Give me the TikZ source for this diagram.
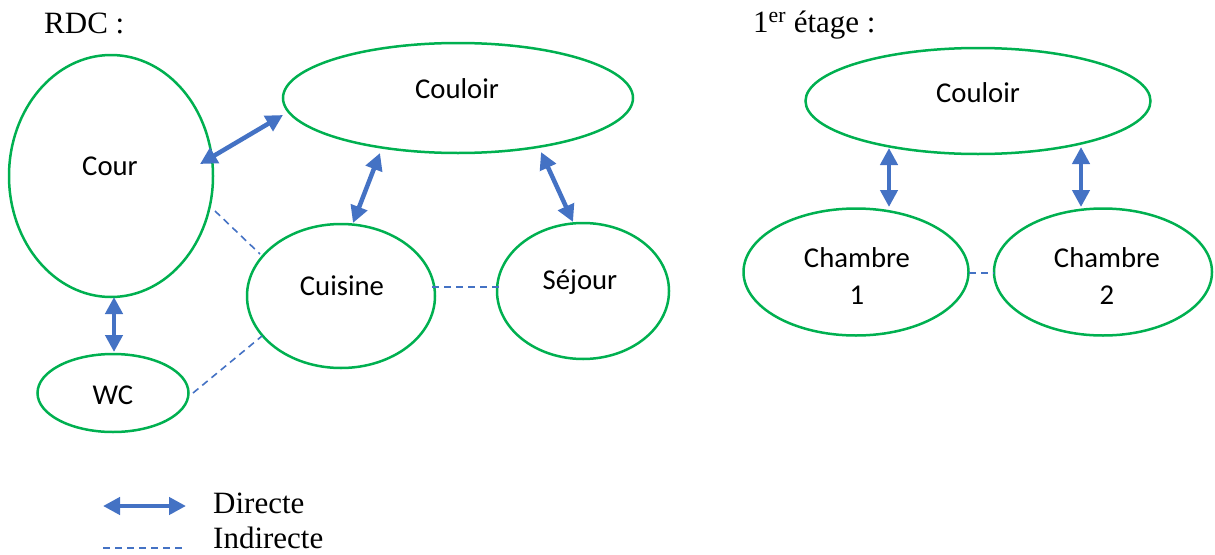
\documentclass[tikz,border=0pt]{standalone}
\usepackage{fontspec}
\setmainfont{Liberation Serif}
\newfontfamily\calibrifont{Carlito}
\usetikzlibrary{shapes.geometric,arrows.meta,calc}

\definecolor{roomgreen}{RGB}{0,176,80}
\definecolor{linkblue}{RGB}{68,114,196}

\tikzset{
  room/.style={draw=roomgreen, line width=2.5pt, ellipse, inner sep=0pt},
  roomname/.style={font=\calibrifont\fontsize{28.7}{37}\selectfont, anchor=base, inner sep=0pt, align=center},
  heading/.style={font=\fontsize{31}{35}\selectfont, anchor=base west, inner sep=0pt},
  direct/.style={draw=linkblue, line width=4.5pt, {Triangle[length=17pt,width=17pt]}-{Triangle[length=17pt,width=17pt]}},
  indirect/.style={draw=linkblue, line width=1.6pt, dash pattern=on 7pt off 5pt},
}

\begin{document}
\begin{tikzpicture}[x=1pt, y=-1pt]
\useasboundingbox (0,0) rectangle (1215,554);

% headings
\node[heading] (rdc) at (44,33) {RDC :};
\node[heading] (etage) at (753,32) {1\textsuperscript{er} étage :};

% ground floor rooms
\node[room, minimum width=204pt, minimum height=242pt] (cour) at (111,176) {};
\node[room, minimum width=350pt, minimum height=110pt] (couloirA) at (458,98) {};
\node[room, minimum width=188pt, minimum height=144pt] (cuisine) at (341,296) {};
\node[room, minimum width=172pt, minimum height=136pt] (sejour) at (583,291) {};
\node[room, minimum width=151pt, minimum height=78pt] (wc) at (113,393) {};

\node[roomname] (courT) at (110,175) {Cour};
\node[roomname] (couloirAT) at (457,98) {Couloir};
\node[roomname] (cuisineT) at (342,295) {Cuisine};
\node[roomname] (sejourT) at (580,289) {Séjour};
\node[roomname] (wcT) at (113,404) {WC};

% first floor rooms
\node[room, minimum width=345pt, minimum height=106pt] (couloirB) at (978,101) {};
\node[room, minimum width=225pt, minimum height=127pt] (ch1) at (856,272) {};
\node[room, minimum width=218pt, minimum height=127pt] (ch2) at (1103,272) {};

\node[roomname] (couloirBT) at (978,102) {Couloir};
% base anchor of a two-line node sits on its last line
\node[roomname] (ch1T) at (857,304) {Chambre\\1};
\node[roomname] (ch2T) at (1107,304) {Chambre\\2};

% direct links
\draw[direct] ($(cour)+(89,-12)$) -- ($(couloirA)+(-175,17)$);
\draw[direct] ($(couloirA)+(-78,55)$) -- ($(cuisine)+(12,-73)$);
\draw[direct] ($(couloirA)+(83,54)$) -- ($(sejour)+(-10,-69)$);
\draw[direct] ($(cour)+(3,121)$) -- ($(wc)+(1,-41)$);
\draw[direct] ($(couloirB)+(-89,47)$) -- ($(ch1)+(33,-65)$);
\draw[direct] ($(couloirB)+(103,46)$) -- ($(ch2)+(-22,-65)$);

% indirect links
\draw[indirect] ($(cour)+(104,35)$) -- ($(cuisine)+(-81,-42)$);
\draw[indirect] ($(cuisine)+(91,-9)$) -- ($(sejour)+(-81,-4)$);
\draw[indirect] ($(wc)+(80,0)$) -- ($(cuisine)+(-79,40)$);
\draw[indirect] ($(ch1)+(113,1)$) -- ($(ch2)+(-109,1)$);

% legend
\coordinate (dA) at (103,506);
\coordinate (dB) at (186,506);
\coordinate (iA) at (103,548);
\coordinate (iB) at (186,548);
\draw[direct] (dA) -- (dB);
\draw[indirect] (iA) -- (iB);
\node[heading] (dT) at (213,513) {Directe};
\node[heading] (iT) at (213,548) {Indirecte};
\end{tikzpicture}
\end{document}
